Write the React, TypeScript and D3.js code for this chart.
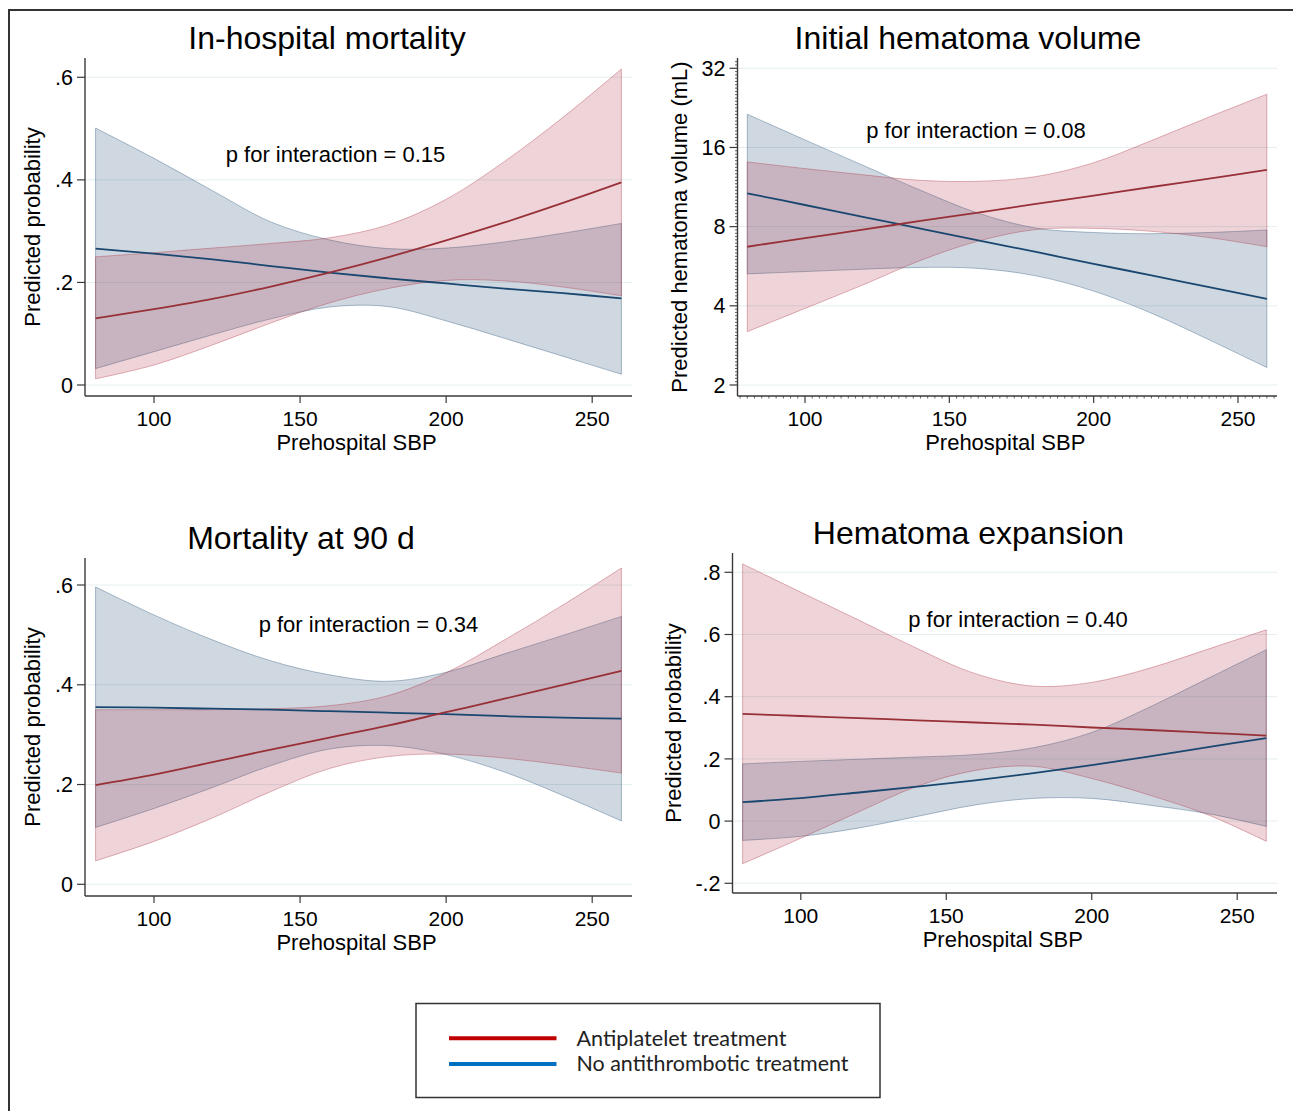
import React from "react";
import * as d3 from "d3";

// ---------- data ----------
const sbp = [80, 100, 120, 140, 160, 180, 200, 220, 240, 260];
const xTickValues = [100, 150, 200, 250];

const seriesNames = ["Antiplatelet treatment", "No antithrombotic treatment"];
const panelTitles = ["In-hospital mortality", "Initial hematoma volume", "Mortality at 90 d", "Hematoma expansion"];
const pTexts = ["p for interaction = 0.15", "p for interaction = 0.08", "p for interaction = 0.34", "p for interaction = 0.40"];
const yTitles = ["Predicted probability", "Predicted hematoma volume (mL)", "Predicted probability", "Predicted probability"];
const xTitle = "Prehospital SBP";

const probTicks = [0, 0.2, 0.4, 0.6];
const volTicks = [2, 4, 8, 16, 32];
const expTicks = [-0.2, 0, 0.2, 0.4, 0.6, 0.8];

// In-hospital mortality
const hospAntiMean = [0.130, 0.148, 0.168, 0.192, 0.219, 0.249, 0.282, 0.317, 0.355, 0.395];
const hospAntiHi = [0.250, 0.258, 0.267, 0.276, 0.287, 0.312, 0.362, 0.436, 0.522, 0.616];
const hospAntiLo = [0.012, 0.039, 0.078, 0.121, 0.160, 0.188, 0.204, 0.203, 0.191, 0.174];
const hospNoneMean = [0.266, 0.256, 0.245, 0.232, 0.219, 0.208, 0.198, 0.188, 0.179, 0.169];
const hospNoneHi = [0.501, 0.442, 0.379, 0.318, 0.283, 0.266, 0.267, 0.279, 0.296, 0.315];
const hospNoneLo = [0.032, 0.065, 0.098, 0.129, 0.152, 0.153, 0.125, 0.091, 0.056, 0.021];

// Initial hematoma volume (mL)
const volAntiMean = [6.71, 7.24, 7.79, 8.41, 9.05, 9.76, 10.5, 11.32, 12.18, 13.14];
const volAntiHi = [14.1, 13.3, 12.6, 12.0, 11.9, 12.4, 14.0, 17.0, 20.9, 25.5];
const volAntiLo = [3.19, 3.91, 4.8, 5.95, 7.05, 7.8, 7.88, 7.68, 7.27, 6.71];
const volNoneMean = [10.71, 9.67, 8.72, 7.87, 7.1, 6.41, 5.78, 5.22, 4.71, 4.25];
const volNoneHi = [21.4, 17.1, 13.7, 11.0, 9.0, 7.9, 7.6, 7.52, 7.6, 7.77];
const volNoneLo = [5.29, 5.4, 5.51, 5.6, 5.55, 5.2, 4.55, 3.75, 2.97, 2.33];

// Mortality at 90 d
const m90AntiMean = [0.199, 0.220, 0.245, 0.270, 0.294, 0.318, 0.345, 0.372, 0.400, 0.428];
const m90AntiHi = [0.350, 0.350, 0.350, 0.352, 0.358, 0.378, 0.424, 0.490, 0.560, 0.634];
const m90AntiLo = [0.047, 0.086, 0.133, 0.186, 0.232, 0.256, 0.261, 0.253, 0.239, 0.223];
const m90NoneMean = [0.355, 0.354, 0.352, 0.350, 0.347, 0.344, 0.341, 0.337, 0.334, 0.332];
const m90NoneHi = [0.596, 0.540, 0.490, 0.448, 0.420, 0.407, 0.425, 0.462, 0.499, 0.537];
const m90NoneLo = [0.114, 0.152, 0.194, 0.238, 0.271, 0.278, 0.260, 0.225, 0.178, 0.127];

// Hematoma expansion
const expAntiMean = [0.345, 0.338, 0.331, 0.324, 0.317, 0.310, 0.301, 0.293, 0.284, 0.275];
const expAntiHi = [0.827, 0.736, 0.646, 0.555, 0.474, 0.434, 0.446, 0.492, 0.553, 0.615];
const expAntiLo = [-0.137, -0.055, 0.030, 0.112, 0.163, 0.176, 0.137, 0.083, 0.020, -0.065];
const expNoneMean = [0.061, 0.074, 0.092, 0.111, 0.131, 0.154, 0.180, 0.208, 0.238, 0.267];
const expNoneHi = [0.184, 0.192, 0.199, 0.206, 0.214, 0.236, 0.285, 0.367, 0.459, 0.551];
const expNoneLo = [-0.062, -0.049, -0.022, 0.015, 0.052, 0.073, 0.073, 0.051, 0.024, -0.017];

// ---------- styling ----------
const FONT = "'Liberation Sans', Arial, Helvetica, sans-serif";
const LEG_FONT = "Lato, 'Open Sans', sans-serif";
const NAVY = "#1a476f";
const MAROON = "#983038";
const RED_BAND = "#a8283a";
const BLUE_BAND = "#1a476f";
const AXIS = "#3a3a3a";
const GRID = "#e4eef1";

const fmtProb = (d: number) => {
  if (Math.abs(d) < 1e-9) return "0";
  const s = Math.abs(d).toFixed(1).replace(/^0\./, ".");
  return (d < 0 ? "-" : "") + s;
};
const fmtVol = (d: number) => String(d);

type Band = { mean: number[]; lo: number[]; hi: number[] };
type PanelCfg = {
  title: string; titleX: number; titleBase: number;
  pText: string; pX: number; pBase: number;
  yTitle: string; yTitleX: number;
  x: any; y: any; ticks: number[]; fmt: (d: number) => string;
  left: number; top: number; bottom: number; right: number;
  anti: Band; none: Band; minor: boolean;
};

const panels: PanelCfg[] = [
  {
    title: panelTitles[0], titleX: 327, titleBase: 49, pText: pTexts[0], pX: 335.5, pBase: 162,
    yTitle: yTitles[0], yTitleX: 40,
    x: d3.scaleLinear().domain([100, 250]).range([154, 592.2]),
    y: d3.scaleLinear().domain([0, 0.6]).range([385, 77.3]),
    ticks: probTicks, fmt: fmtProb, left: 85, top: 58, bottom: 396, right: 632,
    anti: { mean: hospAntiMean, lo: hospAntiLo, hi: hospAntiHi },
    none: { mean: hospNoneMean, lo: hospNoneLo, hi: hospNoneHi }, minor: false,
  },
  {
    title: panelTitles[1], titleX: 968, titleBase: 48.5, pText: pTexts[1], pX: 976, pBase: 138,
    yTitle: yTitles[1], yTitleX: 687,
    x: d3.scaleLinear().domain([100, 250]).range([805, 1238]),
    y: d3.scaleLog().base(2).domain([2, 32]).range([385, 68.3]),
    ticks: volTicks, fmt: fmtVol, left: 737.5, top: 58, bottom: 396, right: 1277,
    anti: { mean: volAntiMean, lo: volAntiLo, hi: volAntiHi },
    none: { mean: volNoneMean, lo: volNoneLo, hi: volNoneHi }, minor: true,
  },
  {
    title: panelTitles[2], titleX: 301, titleBase: 548.5, pText: pTexts[2], pX: 368.4, pBase: 632,
    yTitle: yTitles[2], yTitleX: 40,
    x: d3.scaleLinear().domain([100, 250]).range([154, 592.2]),
    y: d3.scaleLinear().domain([0, 0.6]).range([884.3, 585]),
    ticks: probTicks, fmt: fmtProb, left: 85, top: 558, bottom: 896, right: 632,
    anti: { mean: m90AntiMean, lo: m90AntiLo, hi: m90AntiHi },
    none: { mean: m90NoneMean, lo: m90NoneLo, hi: m90NoneHi }, minor: false,
  },
  {
    title: panelTitles[3], titleX: 968.5, titleBase: 543.5, pText: pTexts[3], pX: 1018, pBase: 626.5,
    yTitle: yTitles[3], yTitleX: 681,
    x: d3.scaleLinear().domain([100, 250]).range([800.8, 1237.2]),
    y: d3.scaleLinear().domain([-0.2, 0.8]).range([883.3, 572.3]),
    ticks: expTicks, fmt: fmtProb, left: 732.5, top: 553, bottom: 893, right: 1277,
    anti: { mean: expAntiMean, lo: expAntiLo, hi: expAntiHi },
    none: { mean: expNoneMean, lo: expNoneLo, hi: expNoneHi }, minor: false,
  },
];

function Panel({ cfg }: { cfg: PanelCfg }) {
  const { x, y } = cfg;
  const idx = sbp.map((_, i) => i);
  const curve = d3.curveCatmullRom.alpha(0.5);
  const area = (b: Band) =>
    d3.area<number>().x((i) => x(sbp[i])).y0((i) => y(b.lo[i])).y1((i) => y(b.hi[i])).curve(curve)(idx) || "";
  const line = (b: Band) => d3.line<number>().x((i) => x(sbp[i])).y((i) => y(b.mean[i])).curve(curve)(idx) || "";

  const minorX: number[] = [];
  const minorY: number[] = [];
  if (cfg.minor) {
    for (let v = 77.5; v <= 263; v += 2.5) if (v % 50 !== 0) minorX.push(v);
    for (let k = 0; k <= 4 * 24 + 2; k++) {
      const v = Math.pow(2, 1 + k / 24);
      const py = y(v);
      if (py >= cfg.top && py <= cfg.bottom && k % 24 !== 0) minorY.push(v);
    }
  }

  return (
    <g>
      {cfg.ticks.map((t) => (
        <line key={"g" + t} x1={cfg.left} x2={cfg.right} y1={y(t)} y2={y(t)} stroke={GRID} strokeWidth={1} />
      ))}
      <path d={area(cfg.none)} fill={BLUE_BAND} fillOpacity={0.21} stroke={BLUE_BAND} strokeOpacity={0.35} strokeWidth={1} />
      <path d={area(cfg.anti)} fill={RED_BAND} fillOpacity={0.2} stroke={RED_BAND} strokeOpacity={0.35} strokeWidth={1} />
      <path d={line(cfg.none)} fill="none" stroke={NAVY} strokeWidth={1.8} />
      <path d={line(cfg.anti)} fill="none" stroke={MAROON} strokeWidth={1.8} />
      <line x1={cfg.left} x2={cfg.left} y1={cfg.top} y2={cfg.bottom} stroke={AXIS} strokeWidth={1.4} />
      <line x1={cfg.left} x2={cfg.right} y1={cfg.bottom} y2={cfg.bottom} stroke={AXIS} strokeWidth={1.4} />
      {minorX.map((v) => (
        <line key={"mx" + v} x1={x(v)} x2={x(v)} y1={cfg.bottom} y2={cfg.bottom + 2.5} stroke={AXIS} strokeWidth={0.8} />
      ))}
      {minorY.map((v) => (
        <line key={"my" + v} x1={cfg.left - 2.5} x2={cfg.left} y1={y(v)} y2={y(v)} stroke={AXIS} strokeWidth={0.8} />
      ))}
      {cfg.ticks.map((t) => (
        <g key={"yt" + t}>
          <line x1={cfg.left - 8} x2={cfg.left} y1={y(t)} y2={y(t)} stroke={AXIS} strokeWidth={1.2} />
          <text x={cfg.left - 12} y={y(t) + 7.6} textAnchor="end" fontSize={21.5} fontFamily={FONT} fill="#000">
            {cfg.fmt(t)}
          </text>
        </g>
      ))}
      {xTickValues.map((t) => (
        <g key={"xt" + t}>
          <line x1={x(t)} x2={x(t)} y1={cfg.bottom} y2={cfg.bottom + 7} stroke={AXIS} strokeWidth={1.2} />
          <text x={x(t)} y={cfg.bottom + 29.5} textAnchor="middle" fontSize={21} fontFamily={FONT} fill="#000">
            {t}
          </text>
        </g>
      ))}
      <text x={(cfg.left + cfg.right) / 2 - 2} y={cfg.bottom + 54} textAnchor="middle" fontSize={22} fontFamily={FONT} fill="#000">
        {xTitle}
      </text>
      <text
        transform={`translate(${cfg.yTitleX},${(cfg.top + cfg.bottom) / 2}) rotate(-90)`}
        textAnchor="middle" fontSize={22} fontFamily={FONT} fill="#000"
      >
        {cfg.yTitle}
      </text>
      <text x={cfg.titleX} y={cfg.titleBase} textAnchor="middle" fontSize={32} fontFamily={FONT} fill="#000">
        {cfg.title}
      </text>
      <text x={cfg.pX} y={cfg.pBase} textAnchor="middle" fontSize={22} fontFamily={FONT} fill="#000">
        {cfg.pText}
      </text>
    </g>
  );
}

export default function App() {
  return (
    <svg
      width={1293}
      height={1111}
      viewBox="0 0 1293 1111"
      style={{ position: "absolute", left: 0, top: 0, background: "#fff" }}
    >
      <rect x={0} y={0} width={1293} height={1111} fill="#fff" />
      <path d="M9,1111 L9,10 L1293,10" fill="none" stroke="#333" strokeWidth={2} />
      {panels.map((p, i) => (
        <Panel key={i} cfg={p} />
      ))}
      <rect x={416} y={1003.5} width={464} height={94} fill="#fff" stroke="#333" strokeWidth={1.5} />
      <line x1={449} x2={556.5} y1={1038.3} y2={1038.3} stroke="#c00000" strokeWidth={4} />
      <line x1={449} x2={556.5} y1={1064} y2={1064} stroke="#0070c0" strokeWidth={4} />
      <text x={576.5} y={1045.5} fontSize={22} fontFamily={LEG_FONT} fill="#222" textLength={210} lengthAdjust="spacingAndGlyphs">
        {seriesNames[0]}
      </text>
      <text x={576.5} y={1071} fontSize={22} fontFamily={LEG_FONT} fill="#222" textLength={272} lengthAdjust="spacingAndGlyphs">
        {seriesNames[1]}
      </text>
    </svg>
  );
}
